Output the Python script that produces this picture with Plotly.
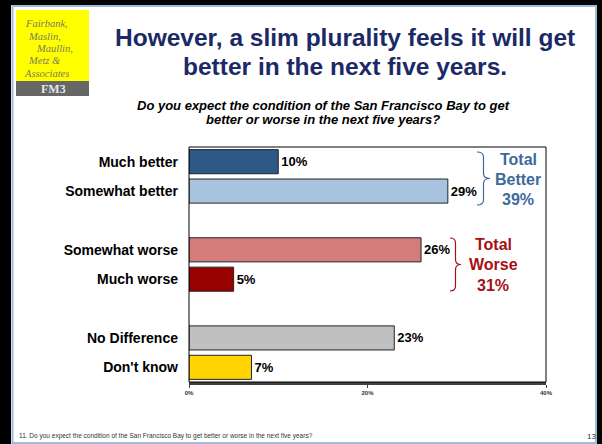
import plotly.graph_objects as go

# ---- data ----
categories = ["Much better", "Somewhat better", " ", "Somewhat worse", "Much worse", "  ",
              "No Difference", "Don't know"]
values = [10, 29, None, 26, 5, None, 23, 7]
bar_colors = ["#2E5886", "#A7C3E0", "#FFFFFF", "#D37C7B", "#990000", "#FFFFFF", "#C0C0C0", "#FFD400"]
x_ticks = [0, 20, 40]
x_tick_labels = ["0%", "20%", "40%"]
total_better = 39
total_worse = 31

W, H = 602, 444
L, R, T, B = 189, 546, 147, 382

def xp(px):
    return (px - L) / (R - L)

def yp(py):
    return (B - py) / (B - T)

FONT = "Arial, 'Liberation Sans', sans-serif"

fig = go.Figure()
fig.add_trace(go.Bar(
    y=categories, x=values, orientation="h",
    marker=dict(color=bar_colors, line=dict(color="#222222", width=1)),
    width=0.82,
    text=[("" if v is None else f"{v}%") for v in values],
    textposition="outside",
    textfont=dict(family=FONT, size=13, color="#000000", weight="bold"),
    cliponaxis=False,
    hoverinfo="skip",
))

shapes = []
shapes.append(dict(type="rect", xref="paper", yref="paper", layer="below",
                   x0=xp(11), x1=xp(597), y0=yp(5), y1=yp(444),
                   fillcolor="#FFFFFF", line=dict(width=0)))
shapes.append(dict(type="rect", xref="paper", yref="paper", layer="below",
                   x0=xp(12.5), x1=xp(596), y0=yp(6), y1=yp(443),
                   fillcolor="rgba(0,0,0,0)", line=dict(color="#9DBCDC", width=2)))
# logo
shapes.append(dict(type="rect", xref="paper", yref="paper", layer="below",
                   x0=xp(16), x1=xp(89), y0=yp(10), y1=yp(81),
                   fillcolor="#FFFF00", line=dict(width=0)))
shapes.append(dict(type="rect", xref="paper", yref="paper", layer="below",
                   x0=xp(16), x1=xp(89), y0=yp(81), y1=yp(96),
                   fillcolor="#666666", line=dict(width=0)))
# plot frame
shapes.append(dict(type="rect", xref="paper", yref="paper", layer="above",
                   x0=0, x1=1, y0=0, y1=1,
                   fillcolor="rgba(0,0,0,0)", line=dict(color="#000000", width=1)))

def brace(x0, x1, ytop, ybot, r=5):
    xm = (x0 + x1) / 2
    ym = (ytop + ybot) / 2
    pts = [
        ("M", [(x0, ytop)]),
        ("Q", [(xm, ytop), (xm, ytop + r)]),
        ("L", [(xm, ym - r)]),
        ("Q", [(xm, ym), (x1, ym)]),
        ("Q", [(xm, ym), (xm, ym + r)]),
        ("L", [(xm, ybot - r)]),
        ("Q", [(xm, ybot), (x0, ybot)]),
    ]
    s = ""
    for cmd, ps in pts:
        s += cmd + " " + " ".join(f"{xp(a):.5f},{yp(b):.5f}" for a, b in ps) + " "
    return s

shapes.append(dict(type="path", xref="paper", yref="paper", layer="above",
                   path=brace(477, 490, 152, 205), line=dict(color="#3E6A9B", width=1.2)))
shapes.append(dict(type="path", xref="paper", yref="paper", layer="above",
                   path=brace(450, 461, 238, 291), line=dict(color="#A50F15", width=1.2)))

ann = []
def text(px, py, s, size, color, weight="normal", style="normal", family=FONT, xanchor="center",
         height=None):
    a = dict(x=xp(px), y=yp(py), xref="paper", yref="paper", text=s, showarrow=False,
             xanchor=xanchor, yanchor="middle",
             font=dict(family=family, size=size, color=color, weight=weight, style=style))
    if height is not None:
        a["height"] = height
        a["valign"] = "middle"
    ann.append(a)

# title
text(345, 37, "However, a slim plurality feels it will get", 24.5, "#1B2A66", weight="bold")
text(345, 66, "better in the next five years.", 24.5, "#1B2A66", weight="bold")
# subtitle
text(323, 105, "Do you expect the condition of the San Francisco Bay to get", 13, "#000000",
     weight="bold", style="italic")
text(323, 119, "better or worse in the next five years?", 13, "#000000", weight="bold", style="italic")
# logo text
SERIF = "'Liberation Serif', 'Times New Roman', serif"
LC = "#7A7A60"
text(23, 23.5, "Fairbank,", 10.5, LC, style="italic", family=SERIF, xanchor="left", height=11)
text(26, 36, "Maslin,", 10.5, LC, style="italic", family=SERIF, xanchor="left", height=11)
text(34, 48.5, "Maullin,", 10.5, LC, style="italic", family=SERIF, xanchor="left", height=11)
text(26, 61, "Metz &amp;", 10.5, LC, style="italic", family=SERIF, xanchor="left", height=11)
text(22, 73.5, "Associates", 10.5, LC, style="italic", family=SERIF, xanchor="left", height=11)
text(53, 89, "FM3", 12, "#E8E8E8", weight="bold", family=SERIF, height=12)
# totals
text(518, 159, "Total", 16, "#3E6A9B", weight="bold", height=19)
text(518, 179, "Better", 16, "#3E6A9B", weight="bold", height=19)
text(518, 199, f"{total_better}%", 16, "#3E6A9B", weight="bold", height=19)
text(493, 244, "Total", 16, "#A50F15", weight="bold", height=19)
text(493, 264, "Worse", 16, "#A50F15", weight="bold", height=19)
text(493, 285, f"{total_worse}%", 16, "#A50F15", weight="bold", height=19)
# footer
text(17, 436, "11. Do you expect the condition of the San Francisco Bay to get better or worse in the next five years?",
     6.5, "#333333", xanchor="left")
text(591, 436, "13", 8, "#333333")

fig.update_layout(
    width=W, height=H,
    margin=dict(l=L, r=W - R, t=T, b=H - B, pad=0),
    paper_bgcolor="#000000", plot_bgcolor="#FFFFFF",
    showlegend=False, bargap=0.18,
    shapes=shapes, annotations=ann,
    xaxis=dict(range=[0, 40], tickvals=x_ticks, ticktext=x_tick_labels,
               showgrid=False, zeroline=False, showline=True, linecolor="#404040", linewidth=2.5,
               ticks="outside", ticklen=3, tickcolor="#404040", tickwidth=1,
               tickfont=dict(family=FONT, size=6, color="#333333", weight="bold"),
               fixedrange=True),
    yaxis=dict(categoryorder="array", categoryarray=categories, autorange="reversed",
               showgrid=False, zeroline=False, showline=False, ticks="",
               ticklabelstandoff=10,
               tickfont=dict(family=FONT, size=14, color="#000000", weight="bold"),
               fixedrange=True),
    font=dict(family=FONT),
)

fig.write_html("out.html", config={"displayModeBar": False},
               post_script="document.body.style.margin='0';document.body.style.overflow='hidden';")
